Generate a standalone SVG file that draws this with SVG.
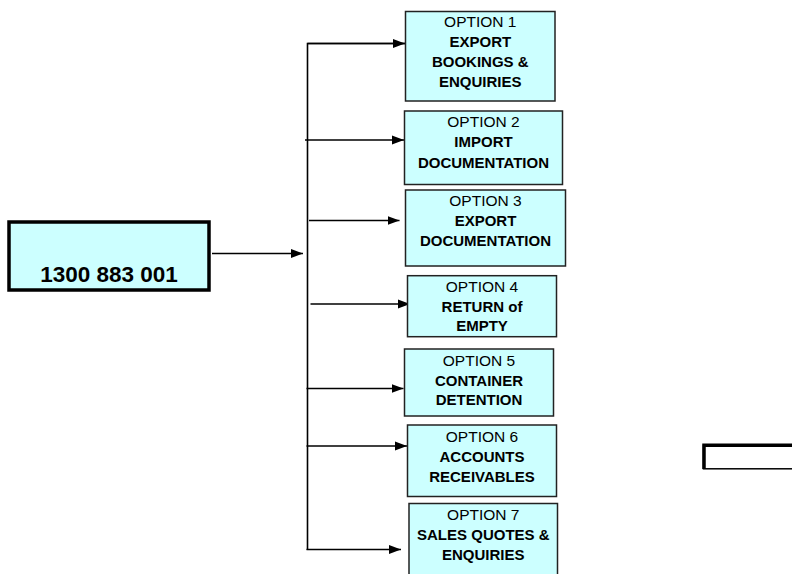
<svg xmlns="http://www.w3.org/2000/svg" width="792" height="574" viewBox="0 0 792 574">
<defs>
<marker id="ah" markerUnits="userSpaceOnUse" markerWidth="13" markerHeight="10" refX="12" refY="5" orient="auto">
<path d="M0,0.5 L12,5 L0,9.5 Z" fill="#000"/>
</marker>
<style>
.opt{fill:#CCFFFF;stroke:#222;stroke-width:1.5}
.t{font-family:"Liberation Sans",Arial,sans-serif;font-size:15.5px;text-anchor:middle;fill:#000}
.b{font-weight:bold;font-size:15px}
.c{stroke:#000;stroke-width:1.6;fill:none}
</style>
</defs>
<rect width="792" height="574" fill="#fff"/>
<g id="main">
<rect x="9" y="222" width="200" height="68" fill="#CCFFFF" stroke="#000" stroke-width="3.5"/>
<text class="t b" x="109" y="282" style="font-size:22.5px">1300 883 001</text>
</g>
<g id="connectors">
<line class="c" x1="212" y1="253.5" x2="303" y2="253.5" marker-end="url(#ah)"/>
<polyline class="c" points="405,43.5 307.5,43.5 307.5,550"/>
<line class="c" x1="307.5" y1="43.5" x2="405" y2="43.5" marker-end="url(#ah)"/>
<line class="c" x1="305" y1="140" x2="404" y2="140" marker-end="url(#ah)"/>
<line class="c" x1="309" y1="220.5" x2="399.5" y2="220.5" marker-end="url(#ah)"/>
<line class="c" x1="310.5" y1="304" x2="410" y2="304" marker-end="url(#ah)"/>
<line class="c" x1="306.5" y1="388.5" x2="403.5" y2="388.5" marker-end="url(#ah)"/>
<line class="c" x1="306.5" y1="446" x2="407" y2="446" marker-end="url(#ah)"/>
<line class="c" x1="306.5" y1="549.5" x2="401" y2="549.5" marker-end="url(#ah)"/>
</g>
<g id="opt1">
<rect class="opt" x="405.5" y="11.5" width="149.5" height="89.5"/>
<text class="t" x="480.3" y="26.7">OPTION 1</text>
<text class="t b" x="480.3" y="46.7">EXPORT</text>
<text class="t b" x="480.3" y="66.7">BOOKINGS &amp;</text>
<text class="t b" x="480.3" y="87">ENQUIRIES</text>
</g>
<g id="opt2">
<rect class="opt" x="404.5" y="111" width="158" height="73.5"/>
<text class="t" x="483.5" y="126.5">OPTION 2</text>
<text class="t b" x="483.5" y="146.7">IMPORT</text>
<text class="t b" x="483.5" y="168.3">DOCUMENTATION</text>
</g>
<g id="opt3">
<rect class="opt" x="405.5" y="190" width="160" height="76"/>
<text class="t" x="485.5" y="205.7">OPTION 3</text>
<text class="t b" x="485.5" y="225.7">EXPORT</text>
<text class="t b" x="485.5" y="245.7">DOCUMENTATION</text>
</g>
<g id="opt4">
<rect class="opt" x="407.5" y="275.7" width="149" height="61"/>
<text class="t" x="482" y="291.7">OPTION 4</text>
<text class="t b" x="482" y="311.7">RETURN of</text>
<text class="t b" x="482" y="331">EMPTY</text>
</g>
<g id="opt5">
<rect class="opt" x="404.5" y="349" width="149" height="67"/>
<text class="t" x="479" y="366">OPTION 5</text>
<text class="t b" x="479" y="385.7">CONTAINER</text>
<text class="t b" x="479" y="405">DETENTION</text>
</g>
<g id="opt6">
<rect class="opt" x="407.5" y="425" width="149" height="71.5"/>
<text class="t" x="482" y="441.7">OPTION 6</text>
<text class="t b" x="482" y="461.7">ACCOUNTS</text>
<text class="t b" x="482" y="481.7">RECEIVABLES</text>
</g>
<g id="opt7">
<rect class="opt" x="409" y="503.5" width="148.5" height="80"/>
<text class="t" x="483.3" y="520">OPTION 7</text>
<text class="t b" x="483.3" y="540">SALES QUOTES &amp;</text>
<text class="t b" x="483.3" y="560">ENQUIRIES</text>
</g>
<g id="smallbox">
<rect x="703.5" y="445.5" width="100" height="23.3" fill="#fff" stroke="#000" stroke-width="1.5"/>
<path d="M704,469 L704,445.3 L792,445.3" fill="none" stroke="#000" stroke-width="3.5"/>
</g>
</svg>
